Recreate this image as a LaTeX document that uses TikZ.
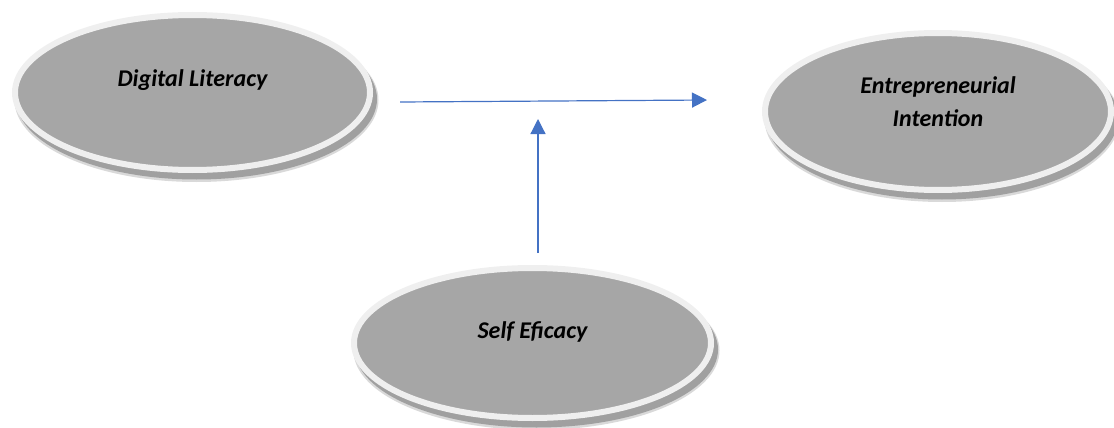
\documentclass[tikz,border=0pt]{standalone}
\usepackage{fontspec}
\setmainfont{Carlito}
\usetikzlibrary{arrows.meta,shapes.geometric}
\definecolor{ovalfill}{HTML}{A6A6A6}
\definecolor{ovalring}{HTML}{EFEFEF}
\definecolor{ovalshade}{HTML}{A0A0A0}
\definecolor{arrowblue}{HTML}{4472C4}
\tikzset{
  oval/.style={ellipse, draw=ovalring, line width=6pt, fill=ovalfill, inner sep=0pt},
  ovaltext/.style={font=\fontsize{24}{33}\selectfont\bfseries\itshape, align=center, inner sep=0pt},
  link/.style={draw=arrowblue, line width=1.2pt, -{Triangle[length=15pt,width=15pt]}}
}
\begin{document}
\begin{tikzpicture}[x=1pt,y=-1pt]
\useasboundingbox (0,0) rectangle (1114,428);
\clip (0,0) rectangle (1114,428);
% soft drop shadows under the ovals (centre / outer radii)
\foreach \cx/\cy/\rx/\ry in {192.5/92.5/180.5/80.5, 938/111.5/176/81.5, 532.5/343/181.5/78}{
  \fill[ovalshade!40] (\cx+4,\cy+7.5) ellipse [x radius=\rx+1.5, y radius=\ry+1.5];
  \fill[ovalshade] (\cx+4,\cy+6.5) ellipse [x radius=\rx, y radius=\ry];
}
% the three constructs
\node[oval, minimum width=355pt, minimum height=155pt] (dl) at (192.5,92.5) {};
\node[oval, minimum width=346pt, minimum height=157pt] (ei) at (938,111.5) {};
\node[oval, minimum width=357pt, minimum height=150pt] (se) at (532.5,343) {};
\node[ovaltext] (dlt) at ([yshift=12.5pt]dl.center) {Digital Literacy};
\node[ovaltext] (eit) at ([yshift=10pt]ei.center) {Entrepreneurial\\Intention};
\node[ovaltext] (set) at ([yshift=11pt]se.center) {Self Eficacy};
% moderating relation
\coordinate (hstart) at (400,102);
\coordinate (hend) at (707,100);
\coordinate (vstart) at (538,253);
\coordinate (vend) at (538,119);
\draw[link] (hstart) -- (hend);
\draw[link] (vstart) -- (vend);
\end{tikzpicture}
\end{document}
